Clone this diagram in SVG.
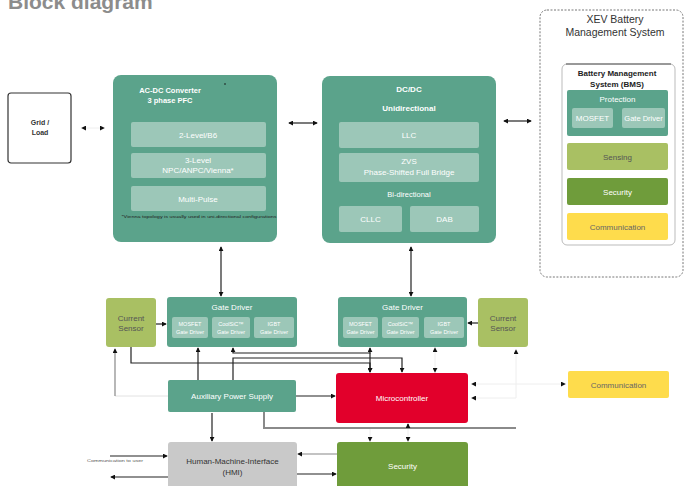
<svg xmlns="http://www.w3.org/2000/svg" width="686" height="486" viewBox="0 0 686 486">
<defs>
<marker id="ah" viewBox="0 0 6 6" refX="5" refY="3" markerWidth="5" markerHeight="5" markerUnits="userSpaceOnUse" orient="auto-start-reverse">
<path d="M0,0 L6,3 L0,6 z" fill="#111"/>
</marker>
</defs>
<style>
text{font-family:"Liberation Sans",Arial,sans-serif;text-anchor:middle}
.teal{fill:#5ba38b}
.inner{fill:#9cc7b8}
.olive{fill:#a9c063}
.green{fill:#6f9c3b}
.red{fill:#e2002b}
.yellow{fill:#fedc4c}
.gray{fill:#c9c9c9}
.wt{fill:#fff}
.wb{fill:#fff;font-weight:bold}
.dk{fill:#444}
.c{fill:none;stroke:#222;stroke-width:1.2}
.cg{fill:none;stroke:#888;stroke-width:1.2}
.cf{fill:none;stroke:#eeeeee;stroke-width:1}
.bus{fill:none;stroke:#8a8a8a;stroke-width:2}
</style>
<text x="8" y="9" style="text-anchor:start;font-weight:bold;font-size:21px;fill:#8c8c8c">Block diagram</text>

<g id="grid-load">
<rect x="8" y="93" width="63" height="70" rx="3" fill="#fff" stroke="#333" stroke-width="1.2"/>
<text x="40" y="125" style="font-size:7px;font-weight:bold;fill:#333">Grid /</text>
<text x="40" y="135" style="font-size:7px;font-weight:bold;fill:#333">Load</text>
</g>

<g id="acdc">
<rect x="113" y="75" width="164" height="167" rx="8" class="teal"/>
<text x="170" y="93" class="wb" style="font-size:7.5px">AC-DC Converter</text>
<text x="170" y="103" class="wb" style="font-size:7.5px">3 phase PFC</text>
<circle cx="225" cy="84" r="0.8" fill="#111"/>
<rect x="131" y="122" width="135" height="25" rx="2" class="inner"/>
<text x="198" y="137.5" class="wt" style="font-size:8px">2-Level/B6</text>
<rect x="131" y="153" width="135" height="25" rx="2" class="inner"/>
<text x="198" y="163" class="wt" style="font-size:8px">3-Level</text>
<text x="198" y="173" class="wt" style="font-size:8px">NPC/ANPC/Vienna*</text>
<rect x="131" y="186" width="135" height="25" rx="2" class="inner"/>
<text x="198" y="201.5" class="wt" style="font-size:8px">Multi-Pulse</text>
<text x="199" y="218" style="font-size:4px;fill:#222" textLength="155" lengthAdjust="spacingAndGlyphs">*Vienna topology is usually used in uni-directional configurations</text>
</g>

<g id="dcdc">
<rect x="322" y="76" width="174" height="167" rx="8" class="teal"/>
<text x="409" y="92" class="wb" style="font-size:8px">DC/DC</text>
<text x="409" y="111" class="wb" style="font-size:8px">Unidirectional</text>
<rect x="339" y="122" width="140" height="26" rx="2" class="inner"/>
<text x="409" y="138" class="wt" style="font-size:8px">LLC</text>
<rect x="339" y="153" width="140" height="29" rx="2" class="inner"/>
<text x="409" y="164" class="wt" style="font-size:8px">ZVS</text>
<text x="409" y="175" class="wt" style="font-size:8px">Phase-Shifted Full Bridge</text>
<text x="409" y="197" class="wt" style="font-size:7.5px">Bi-directional</text>
<rect x="339" y="206" width="63" height="26" rx="2" class="inner"/>
<text x="370.5" y="222" class="wt" style="font-size:8px">CLLC</text>
<rect x="410" y="206" width="69" height="26" rx="2" class="inner"/>
<text x="444.5" y="222" class="wt" style="font-size:8px">DAB</text>
</g>

<g id="xev-bms">
<rect x="540" y="10" width="143" height="267" rx="7" fill="none" stroke="#777" stroke-width="1" stroke-dasharray="2 1.5"/>
<text x="615" y="23" style="font-size:10.5px;fill:#333">XEV Battery</text>
<text x="615" y="36" style="font-size:10.5px;fill:#333">Management System</text>
<rect x="562" y="64" width="113" height="181" rx="5" fill="none" stroke="#aaa" stroke-width="0.8"/>
<line x1="566" y1="64" x2="671" y2="64" stroke="#555" stroke-width="1"/>
<text x="617" y="76" style="font-size:8px;font-weight:bold;fill:#222">Battery Management</text>
<text x="617" y="87" style="font-size:8px;font-weight:bold;fill:#222">System (BMS)</text>
<g id="protection">
<rect x="567" y="90" width="101" height="46" rx="2" class="teal"/>
<text x="617.5" y="102" class="wt" style="font-size:8px">Protection</text>
<rect x="572" y="108" width="41" height="20" rx="2" class="inner"/>
<text x="592.5" y="121" class="wt" style="font-size:8px">MOSFET</text>
<rect x="622" y="108" width="43" height="20" rx="2" class="inner"/>
<text x="643.5" y="121" class="wt" style="font-size:7.5px">Gate Driver</text>
</g>
<g id="sensing">
<rect x="567" y="143" width="101" height="27" rx="2" class="olive"/>
<text x="617.5" y="159.5" style="font-size:8px;fill:#555">Sensing</text>
</g>
<g id="bms-security">
<rect x="567" y="178" width="101" height="27" rx="2" class="green"/>
<text x="617.5" y="194.5" class="wt" style="font-size:8px">Security</text>
</g>
<g id="bms-communication">
<rect x="567" y="213" width="101" height="27" rx="2" class="yellow"/>
<text x="617.5" y="229.5" style="font-size:8px;fill:#666">Communication</text>
</g>
</g>

<g id="current-sensor-left">
<rect x="106" y="298" width="50" height="49" rx="3" class="olive"/>
<text x="131" y="321" style="font-size:8px;fill:#555">Current</text>
<text x="131" y="331" style="font-size:8px;fill:#555">Sensor</text>
</g>

<g id="gate-driver-left">
<rect x="167" y="297" width="130" height="50" rx="3" class="teal"/>
<text x="232" y="310" class="wt" style="font-size:8px">Gate Driver</text>
<rect x="172" y="317" width="36" height="21" rx="2" class="inner"/>
<text x="190" y="326" class="wt" style="font-size:5.5px">MOSFET</text>
<text x="190" y="334" class="wt" style="font-size:5.5px">Gate Driver</text>
<rect x="212" y="317" width="38" height="21" rx="2" class="inner"/>
<text x="231" y="326" class="wt" style="font-size:5.5px">CoolSiC™</text>
<text x="231" y="334" class="wt" style="font-size:5.5px">Gate Driver</text>
<rect x="254" y="317" width="40" height="21" rx="2" class="inner"/>
<text x="274" y="326" class="wt" style="font-size:5.5px">IGBT</text>
<text x="274" y="334" class="wt" style="font-size:5.5px">Gate Driver</text>
</g>

<g id="gate-driver-right">
<rect x="338" y="297" width="129" height="50" rx="3" class="teal"/>
<text x="402.5" y="310" class="wt" style="font-size:8px">Gate Driver</text>
<rect x="343" y="317" width="35" height="21" rx="2" class="inner"/>
<text x="360.5" y="326" class="wt" style="font-size:5.5px">MOSFET</text>
<text x="360.5" y="334" class="wt" style="font-size:5.5px">Gate Driver</text>
<rect x="382" y="317" width="37" height="21" rx="2" class="inner"/>
<text x="400.5" y="326" class="wt" style="font-size:5.5px">CoolSiC™</text>
<text x="400.5" y="334" class="wt" style="font-size:5.5px">Gate Driver</text>
<rect x="424" y="317" width="40" height="21" rx="2" class="inner"/>
<text x="444" y="326" class="wt" style="font-size:5.5px">IGBT</text>
<text x="444" y="334" class="wt" style="font-size:5.5px">Gate Driver</text>
</g>

<g id="current-sensor-right">
<rect x="478" y="298" width="50" height="49" rx="3" class="olive"/>
<text x="503" y="321" style="font-size:8px;fill:#555">Current</text>
<text x="503" y="331" style="font-size:8px;fill:#555">Sensor</text>
</g>

<g id="aux-power-supply">
<rect x="168" y="380" width="128" height="32" rx="2" class="teal"/>
<text x="232" y="399" class="wt" style="font-size:8px">Auxiliary Power Supply</text>
</g>

<g id="microcontroller">
<rect x="336" y="373" width="132" height="50" rx="3" class="red"/>
<text x="402" y="401" class="wt" style="font-size:8px">Microcontroller</text>
</g>

<g id="communication">
<rect x="568" y="371" width="101" height="27" rx="2" class="yellow"/>
<text x="618.5" y="387.5" style="font-size:8px;fill:#666">Communication</text>
</g>

<g id="hmi">
<rect x="168" y="442" width="129" height="50" rx="3" class="gray"/>
<text x="232.5" y="464" style="font-size:8px;fill:#333">Human-Machine-Interface</text>
<text x="232.5" y="475" style="font-size:8px;fill:#333">(HMI)</text>
</g>

<g id="security">
<rect x="337" y="442" width="131" height="50" rx="3" class="green"/>
<text x="402.5" y="469" class="wt" style="font-size:8px">Security</text>
</g>

<text x="115" y="462" style="font-size:4px;fill:#555" textLength="56" lengthAdjust="spacingAndGlyphs">Communication to user</text>

<g id="connectors">
<line x1="82" y1="128" x2="104" y2="128" class="cf" marker-start="url(#ah)" marker-end="url(#ah)"/>
<line x1="289" y1="123" x2="317" y2="123" class="c" marker-start="url(#ah)" marker-end="url(#ah)"/>
<line x1="504" y1="121" x2="531" y2="121" class="c" marker-start="url(#ah)" marker-end="url(#ah)"/>
<line x1="221" y1="247" x2="221" y2="296" class="c" marker-start="url(#ah)" marker-end="url(#ah)"/>
<line x1="411" y1="247" x2="411" y2="296" class="c" marker-start="url(#ah)" marker-end="url(#ah)"/>
<line x1="156" y1="324" x2="166" y2="324" class="c" marker-end="url(#ah)"/>
<line x1="478" y1="323" x2="468" y2="323" class="c" marker-end="url(#ah)"/>
<path d="M233,348 V353 H370 V348" class="c" marker-start="url(#ah)" marker-end="url(#ah)"/>
<path d="M370,353 V372" class="c" marker-end="url(#ah)"/>
<path d="M233,380 V358 H402 V372" class="c" marker-end="url(#ah)"/>
<path d="M131,347 V363 H370 V372" class="c" marker-end="url(#ah)"/>
<line x1="198" y1="380" x2="198" y2="348" class="c" marker-end="url(#ah)"/>
<path d="M168,396 H115" fill="none" stroke="#e2e2e2" stroke-width="1"/>
<path d="M115,396 V349" class="cg" marker-end="url(#ah)"/>
<line x1="296" y1="396" x2="335" y2="396" class="c" marker-end="url(#ah)"/>
<path d="M264,412 V428 H516" class="bus"/>
<line x1="408" y1="428" x2="408" y2="424" class="c" marker-end="url(#ah)"/>
<line x1="370" y1="429" x2="370" y2="441" class="cf" marker-end="url(#ah)"/>
<line x1="408" y1="429" x2="408" y2="441" class="cf" marker-end="url(#ah)"/>
<line x1="212" y1="413" x2="212" y2="441" class="c" marker-end="url(#ah)"/>
<line x1="110" y1="456" x2="167" y2="456" class="c" marker-end="url(#ah)"/>
<line x1="168" y1="477" x2="111" y2="477" class="c" marker-end="url(#ah)"/>
<line x1="337" y1="454" x2="298" y2="454" class="cg" marker-end="url(#ah)"/>
<line x1="297" y1="474" x2="336" y2="474" class="c" marker-end="url(#ah)"/>
<line x1="435" y1="372" x2="435" y2="348" class="cf" marker-start="url(#ah)" marker-end="url(#ah)"/>
<line x1="565" y1="384" x2="472" y2="384" class="cf" marker-start="url(#ah)" marker-end="url(#ah)"/>
<path d="M516,350 V398 H472" class="cf" marker-start="url(#ah)" marker-end="url(#ah)"/>
</g>
</svg>
